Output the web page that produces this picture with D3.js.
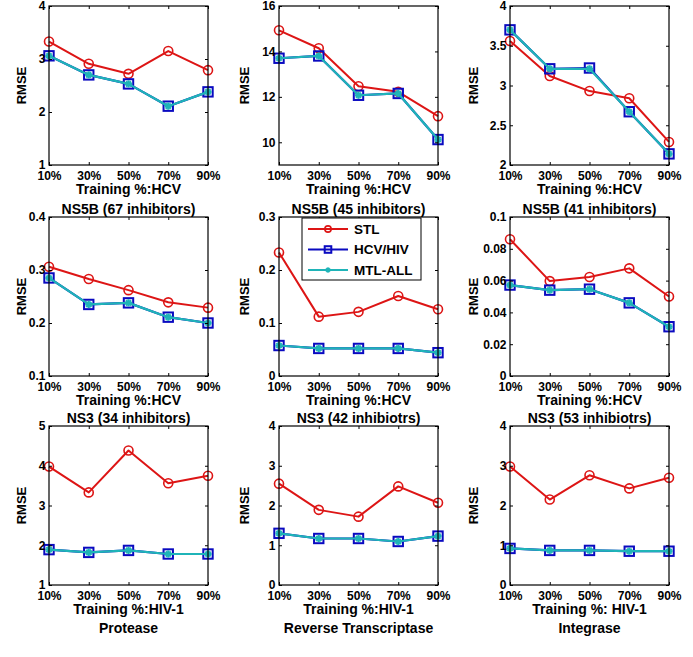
<!DOCTYPE html>
<html><head><meta charset="utf-8">
<script src="https://cdn.jsdelivr.net/npm/d3@7"></script>
<style>
body{margin:0;background:#fff}
svg{display:block}
text{font-family:"Liberation Sans",Arial,sans-serif;font-weight:bold;fill:#000}
</style></head><body>
<script>
// ---------- data ----------
const categories = ["10%","30%","50%","70%","90%"];
const seriesNames = ["STL","HCV/HIV","MTL-ALL"];

const stlValues = [
  [3.33, 2.91, 2.72, 3.15, 2.79],
  [14.93, 14.14, 12.47, 12.22, 11.15],
  [3.56, 3.12, 2.93, 2.84, 2.29],
  [0.306, 0.283, 0.262, 0.239, 0.229],
  [0.233, 0.112, 0.121, 0.151, 0.126],
  [0.086, 0.0597, 0.0623, 0.0677, 0.050],
  [3.98, 3.33, 4.385, 3.56, 3.75],
  [2.55, 1.89, 1.72, 2.48, 2.07],
  [2.98, 2.15, 2.76, 2.43, 2.70]
];
const hcvHivValues = [
  [3.06, 2.70, 2.53, 2.11, 2.38],
  [13.70, 13.80, 12.07, 12.15, 10.12],
  [3.70, 3.21, 3.22, 2.67, 2.14],
  [0.285, 0.235, 0.238, 0.211, 0.200],
  [0.0575, 0.052, 0.052, 0.052, 0.044],
  [0.0572, 0.054, 0.0546, 0.046, 0.031],
  [1.89, 1.82, 1.87, 1.78, 1.78],
  [1.30, 1.17, 1.17, 1.095, 1.23],
  [0.92, 0.87, 0.87, 0.85, 0.85]
];
const mtlAllValues = [
  [3.06, 2.70, 2.53, 2.11, 2.38],
  [13.70, 13.80, 12.07, 12.15, 10.12],
  [3.70, 3.21, 3.21, 2.67, 2.14],
  [0.285, 0.235, 0.238, 0.211, 0.200],
  [0.0575, 0.052, 0.052, 0.052, 0.044],
  [0.0572, 0.054, 0.0546, 0.046, 0.031],
  [1.89, 1.82, 1.87, 1.78, 1.78],
  [1.30, 1.17, 1.17, 1.095, 1.23],
  [0.92, 0.87, 0.87, 0.85, 0.85]
];
const yDomains = [[1,4],[9,16],[2,4],[0.1,0.4],[0,0.3],[0,0.1],[1,5],[0,4],[0,4]];
const yTicks = [
  [1,2,3,4],[10,12,14,16],[2,2.5,3,3.5,4],
  [0.1,0.2,0.3,0.4],[0,0.1,0.2,0.3],[0,0.02,0.04,0.06,0.08,0.1],
  [1,2,3,4,5],[0,1,2,3,4],[0,1,2,3,4]
];
const xLabels = ["Training %:HCV","Training %:HCV","Training %:HCV",
  "Training %:HCV","Training %:HCV","Training %:HCV",
  "Training %:HIV-1","Training %:HIV-1","Training %: HIV-1"];
const titles = [null,null,null,
  "NS5B (67 inhibitors)","NS5B (45 inhibitors)","NS5B (41 inhibitors)",
  "NS3 (34 inhibitors)","NS3 (42 inhibiotrs)","NS3 (53 inhibiotrs)"];
const bottomLabels = [null,null,null,null,null,null,"Protease","Reverse Transcriptase","Integrase"];

// ---------- layout / style ----------
const W = 693, H = 657;
const colX = [49, 279, 510];
const rowY = [6, 217, 426];
const pw = 159, ph = 159;
const rmseX = [-23, -30.5, -32.5];
const colors = {"STL":"#dd1515","HCV/HIV":"#0a0ac0","MTL-ALL":"#1fb4b8"};
const tickLen = 3;

const svg = d3.select("body").append("svg").attr("width", W).attr("height", H);

function drawMarker(g, type, x, y, scale) {
  const s = scale || 1;
  if (type === "STL") {
    g.append("circle").attr("cx", x).attr("cy", y).attr("r", 4.5*s)
      .attr("fill","none").attr("stroke", colors.STL).attr("stroke-width", 1.6);
  } else if (type === "HCV/HIV") {
    const h = 4.7*s;
    g.append("rect").attr("x", x-h).attr("y", y-h).attr("width", 2*h).attr("height", 2*h)
      .attr("fill","none").attr("stroke", colors["HCV/HIV"]).attr("stroke-width", 2);
  } else {
    const r = 3.6*s;
    for (let k = 0; k < 4; k++) {
      const a = k*Math.PI/4;
      g.append("line").attr("x1", x - r*Math.cos(a)).attr("y1", y - r*Math.sin(a))
        .attr("x2", x + r*Math.cos(a)).attr("y2", y + r*Math.sin(a))
        .attr("stroke", colors["MTL-ALL"]).attr("stroke-width", 2.2);
    }
  }
}

const seriesData = [stlValues, hcvHivValues, mtlAllValues];

for (let p = 0; p < 9; p++) {
  const col = p % 3, row = Math.floor(p / 3);
  const x0 = colX[col], y0 = rowY[row];
  const g = svg.append("g").attr("transform", `translate(${x0},${y0})`);
  const x = d3.scalePoint().domain(categories).range([0, pw]).padding(0);
  const y = d3.scaleLinear().domain(yDomains[p]).range([ph, 0]);

  // series
  seriesNames.forEach((name, si) => {
    const vals = seriesData[si][p];
    const line = d3.line().x((d, i) => x(categories[i])).y(d => y(d));
    g.append("path").datum(vals).attr("d", line).attr("fill", "none")
      .attr("stroke", colors[name]).attr("stroke-width", name === "STL" ? 2 : 2.2)
      .attr("stroke-linejoin", "round");
    const mg = g.append("g");
    vals.forEach((v, i) => drawMarker(mg, name, x(categories[i]), y(v)));
  });

  // box
  g.append("rect").attr("x", 0).attr("y", 0).attr("width", pw).attr("height", ph)
    .attr("fill", "none").attr("stroke", "#000").attr("stroke-width", 1.2);

  // y axis ticks & labels
  const yAxisL = d3.axisLeft(y).tickValues(yTicks[p]).tickSizeInner(-tickLen).tickSizeOuter(0)
    .tickPadding(3.5).tickFormat(d => String(+d.toFixed(4)));
  const ya = g.append("g").call(yAxisL);
  ya.select(".domain").remove();
  ya.selectAll("text").attr("font-size", 12).attr("font-family", null).style("font-weight","bold");
  const yAxisR = d3.axisRight(y).tickValues(yTicks[p]).tickSizeInner(-tickLen).tickSizeOuter(0).tickFormat("");
  const yr = g.append("g").attr("transform", `translate(${pw},0)`).call(yAxisR);
  yr.select(".domain").remove();

  // x axis ticks & labels
  const xAxisB = d3.axisBottom(x).tickSizeInner(-tickLen).tickSizeOuter(0).tickPadding(6.5);
  const xb = g.append("g").attr("transform", `translate(0,${ph})`).call(xAxisB);
  xb.select(".domain").remove();
  xb.selectAll("text").attr("font-size", 12).attr("font-family", null).style("font-weight","bold");
  const xAxisT = d3.axisTop(x).tickSizeInner(-tickLen).tickSizeOuter(0).tickFormat("");
  const xt = g.append("g").call(xAxisT);
  xt.select(".domain").remove();
  g.selectAll(".tick line").attr("stroke", "#000").attr("stroke-width", 1);

  // x label
  g.append("text").attr("x", pw/2).attr("y", ph + 24 + 5).attr("text-anchor", "middle")
    .attr("font-size", 14).text(xLabels[p]);
  // RMSE
  g.append("text").attr("transform", `translate(${rmseX[col]},${ph/2}) rotate(-90)`)
    .attr("text-anchor", "middle").attr("font-size", 13).text("RMSE");
  // title
  if (titles[p]) {
    g.append("text").attr("x", pw/2).attr("y", -8 + 5).attr("text-anchor", "middle")
      .attr("font-size", 14).text(titles[p]);
  }
  if (bottomLabels[p]) {
    g.append("text").attr("x", pw/2).attr("y", ph + 43 + 5).attr("text-anchor", "middle")
      .attr("font-size", 14).text(bottomLabels[p]);
  }

  // legend in panel 5
  if (p === 4) {
    const lg = g.append("g").attr("transform", "translate(23,1)");
    lg.append("rect").attr("width", 119).attr("height", 62).attr("fill", "#fff")
      .attr("stroke", "#000").attr("stroke-width", 1);
    const ly = [11, 31.5, 52];
    seriesNames.forEach((name, i) => {
      lg.append("line").attr("x1", 6).attr("x2", 46).attr("y1", ly[i]).attr("y2", ly[i])
        .attr("stroke", colors[name]).attr("stroke-width", 2);
      drawMarker(lg, name, 26, ly[i], 0.7);
      lg.append("text").attr("x", 52).attr("y", ly[i] + 4.7).attr("font-size", 13.5).text(name);
    });
  }
}
</script>
</body></html>
